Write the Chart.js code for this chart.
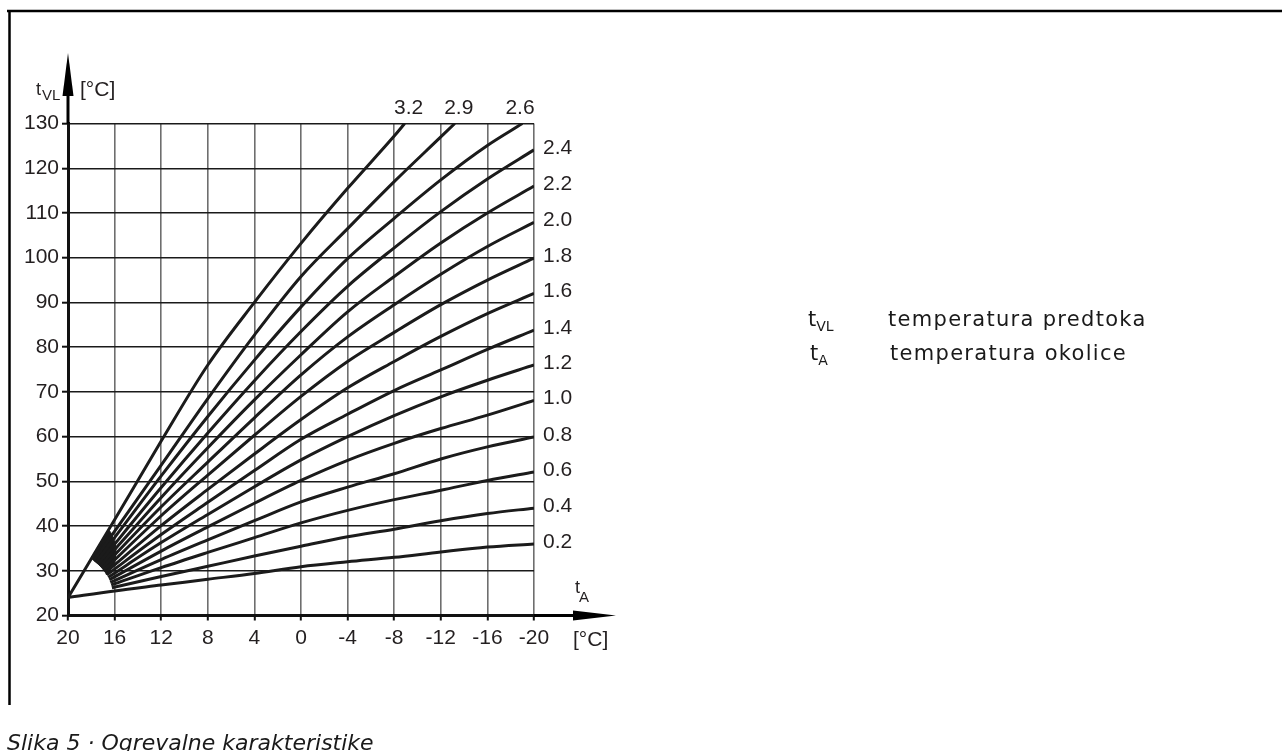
<!DOCTYPE html>
<html><head><meta charset="utf-8">
<script src="https://cdn.jsdelivr.net/npm/chart.js@4"></script>
<style>
html,body{margin:0;padding:0;background:#fff;width:1282px;height:751px;overflow:hidden;}
#wrap{position:relative;width:1282px;height:751px;}
#c{position:absolute;left:0;top:0;}
.leg{position:absolute;font-family:'DejaVu Sans';font-size:21px;line-height:21px;white-space:nowrap;color:#1a1a1a;}
.sub{font-size:14px;position:relative;top:5px;}
.cap{position:absolute;left:7px;top:732px;font-family:'DejaVu Sans';font-style:italic;font-size:22px;line-height:22px;white-space:nowrap;color:#1a1a1a;}
</style></head>
<body><div id="wrap">
<canvas id="c" width="1282" height="751"></canvas>
<div class="leg" style="left:808px;top:309px;">t<span class="sub">VL</span></div>
<div class="leg" style="left:888px;top:309px;letter-spacing:1.3px;">temperatura predtoka</div>
<div class="leg" style="left:810px;top:343px;">t<span class="sub">A</span></div>
<div class="leg" style="left:890px;top:343px;letter-spacing:1.3px;">temperatura okolice</div>
<div class="cap">Slika 5 · Ogrevalne karakteristike</div>
</div>
<script>
// ---- data ----
const curveNames = ['0.2','0.4','0.6','0.8','1.0','1.2','1.4','1.6','1.8','2.0','2.2','2.4','2.6','2.9','3.2'];
// outdoor temperatures of the grid columns [°C]
const gridTA = [16, 12, 8, 4, 0, -4, -8, -12, -16, -20];
// start point of each curve (outdoor temp, flow temp)
const startTA = [20, 16.23, 16.29, 16.37, 16.45, 16.55, 16.67, 16.79, 16.93, 17.08, 17.24, 17.41, 17.59, 17.78, 20];
const startVL = [24, 26.21, 26.81, 27.39, 27.98, 28.54, 29.08, 29.60, 30.10, 30.58, 31.03, 31.46, 31.87, 32.24, 24];
// flow temperatures at gridTA (null = not on the curve)
const vl02 = [25.5, 26.8, 28.1, 29.4, 30.9, 32.0, 33.0, 34.2, 35.3, 36.0];
const vl04 = [null, 28.7, 31.0, 33.3, 35.5, 37.6, 39.3, 41.2, 42.8, 44.0];
const vl06 = [null, 30.7, 34.1, 37.4, 40.7, 43.5, 45.9, 48.0, 50.2, 52.1];
const vl08 = [null, 32.5, 36.9, 41.2, 45.4, 48.7, 51.7, 55.0, 57.7, 59.9];
const vl10 = [null, 34.4, 39.8, 45.1, 50.2, 54.7, 58.5, 61.8, 64.8, 68.1];
const vl12 = [null, 36.3, 42.6, 48.8, 54.8, 60.0, 64.7, 68.9, 72.6, 76.0];
const vl14 = [null, 38.1, 45.3, 52.4, 59.4, 65.0, 70.3, 74.9, 79.5, 83.8];
const vl16 = [null, 40.1, 48.2, 56.1, 63.8, 70.9, 76.8, 82.4, 87.5, 92.0];
const vl18 = [null, 42.3, 51.4, 60.3, 69.0, 76.8, 83.3, 89.5, 95.0, 99.9];
const vl20 = [null, 44.3, 54.3, 64.2, 73.8, 82.3, 89.5, 96.3, 102.5, 107.9];
const vl22 = [null, 46.4, 57.5, 68.2, 78.3, 87.9, 95.8, 103.3, 110.0, 116.0];
const vl24 = [null, 48.6, 60.8, 72.5, 83.5, 93.6, 102.2, 110.3, 117.6, 124.1];
const vl26 = [null, 51.2, 64.5, 77.1, 89.0, 99.8, 108.8, 117.4, 125.1, null];
const vl29 = [null, 53.6, 68.5, 82.7, 95.8, 106.5, 117.0, 127.0, null, null];
const vl32 = [41.4, 59.0, 76.0, 90.0, 103.2, 115.5, 127.2, null, null, null];
// where the steepest curves leave the top of the diagram
const endTA = [null, null, null, null, null, null, null, null, null, null, null, null, -19.0, -13.2, -8.9];
const endVL = [null, null, null, null, null, null, null, null, null, null, null, null, 130, 130, 130];
// dark, merged region where the curves bunch together near their start
const blobTA = [17.98, 16.5, 15.9, 16.0, 16.67, 16.79, 16.93, 17.08, 17.24, 17.41, 17.59, 17.78];
const blobVL = [32.58, 39.0, 35.5, 31.8, 29.08, 29.60, 30.10, 30.58, 31.03, 31.46, 31.87, 32.24];
// axis ticks
const xTicksMin = -20, xTicksMax = 20, xStep = 4;
const yTicksMin = 20, yTicksMax = 130, yStep = 10;

const series = [vl02, vl04, vl06, vl08, vl10, vl12, vl14, vl16, vl18, vl20, vl22, vl24, vl26, vl29, vl32];

const datasets = series.map((vals, i) => {
  const pts = [{x: startTA[i], y: startVL[i]}];
  vals.forEach((v, k) => { if (v !== null) pts.push({x: gridTA[k], y: v}); });
  if (endTA[i] !== null) pts.push({x: endTA[i], y: endVL[i]});
  return {
    label: curveNames[i], data: pts, showLine: true,
    borderColor: '#1b1b1b', borderWidth: 3, pointRadius: 0,
    cubicInterpolationMode: 'monotone', fill: false
  };
});
datasets.push({
  label: '', isBlob: true,
  data: blobTA.map((t, k) => ({x: t, y: blobVL[k]})),
  showLine: true, borderColor: '#1b1b1b', borderWidth: 1, pointRadius: 0,
  backgroundColor: '#1b1b1b', fill: 'shape', tension: 0.2
});

const TXT = '#231f20';
const decor = {
  id: 'decor',
  afterDraw(chart) {
    const ctx = chart.ctx, ca = chart.chartArea;
    const xs = chart.scales.x, ys = chart.scales.y;
    ctx.save();
    ctx.strokeStyle = '#000'; ctx.fillStyle = '#000';
    // frame
    ctx.lineWidth = 2.5;
    ctx.beginPath(); ctx.moveTo(7, 11); ctx.lineTo(1282, 11);
    ctx.moveTo(9.5, 10); ctx.lineTo(9.5, 705); ctx.stroke();
    // y axis extension + arrow
    ctx.lineWidth = 3;
    ctx.beginPath(); ctx.moveTo(ca.left, ca.top); ctx.lineTo(ca.left, 92); ctx.stroke();
    ctx.beginPath(); ctx.moveTo(ca.left, 53); ctx.lineTo(ca.left - 5.5, 96); ctx.lineTo(ca.left + 5.5, 96); ctx.closePath(); ctx.fill();
    // x axis extension + arrow
    ctx.beginPath(); ctx.moveTo(ca.right, ca.bottom); ctx.lineTo(578, ca.bottom); ctx.stroke();
    ctx.beginPath(); ctx.moveTo(616, ca.bottom); ctx.lineTo(573, ca.bottom - 5); ctx.lineTo(573, ca.bottom + 5); ctx.closePath(); ctx.fill();
    // axis titles
    ctx.fillStyle = TXT; ctx.textBaseline = 'alphabetic'; ctx.textAlign = 'left';
    ctx.font = '18px "Liberation Sans"'; ctx.fillText('t', 36, 95);
    ctx.font = '15px "Liberation Sans"'; ctx.fillText('VL', 42, 100);
    ctx.font = '21px "Liberation Sans"'; ctx.fillText('[°C]', 80, 96);
    ctx.font = '18px "Liberation Sans"'; ctx.fillText('t', 575, 593);
    ctx.font = '15px "Liberation Sans"'; ctx.fillText('A', 579, 602);
    ctx.font = '21px "Liberation Sans"'; ctx.fillText('[°C]', 573, 646);
    // curve labels
    ctx.font = '21px "Liberation Sans"'; ctx.textBaseline = 'middle';
    chart.data.datasets.forEach((ds) => {
      if (ds.isBlob) return;
      const last = ds.data[ds.data.length - 1];
      const px = xs.getPixelForValue(last.x), py = ys.getPixelForValue(last.y);
      if (last.y >= yTicksMax) {
        ctx.textAlign = 'center'; ctx.fillText(ds.label, Math.min(px + 4, 520), 108);
      } else {
        ctx.textAlign = 'left'; ctx.fillText(ds.label, 543, py - 2);
      }
    });
    ctx.restore();
  }
};

new Chart(document.getElementById('c'), {
  type: 'scatter',
  data: { datasets },
  options: {
    responsive: false, animation: false, events: [],
    layout: { padding: { left: 8, top: 123.5, right: 748, bottom: 95.5 } },
    plugins: { legend: { display: false }, tooltip: { enabled: false } },
    scales: {
      x: {
        type: 'linear', reverse: true, min: xTicksMin, max: xTicksMax,
        afterFit(s) { s.height = 40; },
        ticks: { stepSize: xStep, autoSkip: false, maxRotation: 0, padding: 5, color: TXT,
                 font: { family: 'Liberation Sans', size: 21 } },
        grid: { color: '#6e6e6e', lineWidth: 1.6, tickLength: 5, tickColor: '#111', tickWidth: 2 },
        border: { display: true, color: '#111', width: 3 }
      },
      y: {
        min: yTicksMin, max: yTicksMax,
        afterFit(s) { s.width = 60; },
        ticks: { stepSize: yStep, padding: 3, color: TXT, font: { family: 'Liberation Sans', size: 21 } },
        grid: { color: '#1a1a1a', lineWidth: 1.4, tickLength: 6, tickColor: '#111', tickWidth: 2 },
        border: { display: true, color: '#111', width: 3 }
      }
    }
  },
  plugins: [decor]
});
</script>
</body></html>
